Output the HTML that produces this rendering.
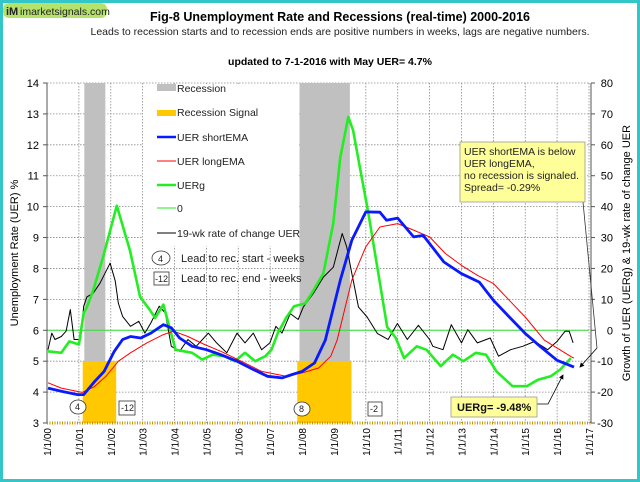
<!DOCTYPE html>
<html><head><meta charset="utf-8"><style>
body{margin:0;background:#fff;font-family:"Liberation Sans",Arial,sans-serif}
#wrap{position:relative;width:640px;height:482px;overflow:hidden}
svg text{font-family:"Liberation Sans",Arial,sans-serif}
</style></head><body>
<div id="wrap">
<svg id="chart" width="640" height="482" viewBox="0 0 640 482">
<rect x="1.5" y="1.5" width="637" height="479" fill="#fff" stroke="#33c6c8" stroke-width="3"/>
<g id="grid"></g>
<g id="marks"></g>
<g id="axes"></g>
<g>
<rect x="3" y="3" width="104" height="15" rx="6" fill="#b5e26a"/>
<text x="6" y="15" font-size="11" font-weight="bold" fill="#222">iM</text>
<text x="20" y="15" font-size="10.5" fill="#222">imarketsignals.com</text>
</g>
<text x="340" y="21" font-size="12.5" font-weight="bold" text-anchor="middle">Fig-8  Unemployment Rate and Recessions (real-time) 2000-2016</text>
<text x="340" y="35" font-size="10.5" text-anchor="middle" fill="#222">Leads to recession starts and to recession ends are positive numbers in weeks, lags are negative numbers.</text>
<text x="330" y="65" font-size="10.5" font-weight="bold" text-anchor="middle">updated to 7-1-2016 with May UER= 4.7%</text>
<text transform="translate(18,253) rotate(-90)" font-size="11" text-anchor="middle">Unemployment Rate (UER) %</text>
<text transform="translate(630,253) rotate(-90)" font-size="11" text-anchor="middle">Growth of UER (UERg) &amp; 19-wk rate of change UER</text>
</svg>
</div>
<script>
// ---- data ----
const recessions=[[2001.17,2001.83],[2007.92,2009.5]];
const signals=[[2001.12,2002.17],[2007.85,2009.55]];
const blueT=[2000.03,2000.45,2000.96,2001.15,2001.5,2001.79,2002.11,2002.37,2002.62,2002.94,2003.26,2003.65,2003.9,2004.16,2004.55,2005.0,2005.45,2005.96,2006.47,2006.92,2007.37,2007.69,2008.0,2008.39,2008.73,2009.2,2009.56,2010.0,2010.44,2010.65,2011.0,2011.5,2011.8,2012.45,2013.0,2013.56,2014.0,2014.5,2015.0,2015.5,2016.0,2016.53];
const blueV=[4.13,4.03,3.92,3.92,4.35,4.67,5.32,5.7,5.8,5.75,5.91,6.18,6.08,5.75,5.48,5.37,5.21,5.0,4.73,4.51,4.46,4.57,4.67,4.94,5.68,7.62,8.91,9.83,9.82,9.56,9.63,9.02,9.07,8.21,7.83,7.56,6.97,6.43,5.9,5.45,5.03,4.81];
const redT=[2000.03,2000.45,2001.1,2001.48,2001.85,2002.24,2002.62,2003.13,2003.65,2003.97,2004.42,2004.94,2005.45,2006.09,2006.73,2007.5,2008.0,2008.52,2008.9,2009.1,2009.56,2010.0,2010.44,2011.0,2011.5,2012.0,2012.5,2013.0,2013.5,2014.0,2014.5,2015.0,2015.6,2016.45,2016.53];
const redV=[4.3,4.13,3.99,4.17,4.51,5.0,5.27,5.59,5.86,5.97,5.8,5.54,5.32,5.0,4.67,4.51,4.62,4.78,5.16,5.68,7.62,8.7,9.34,9.45,9.24,9.02,8.48,8.1,7.78,7.51,6.97,6.43,5.68,5.14,5.1];
const greenT=[2000.03,2000.45,2000.7,2001.0,2001.15,2001.25,2001.45,2001.76,2002.19,2002.6,2002.92,2003.23,2003.39,2003.65,2004.03,2004.55,2004.87,2005.19,2005.57,2005.89,2006.21,2006.53,2006.85,2007.04,2007.24,2007.5,2007.75,2008.1,2008.36,2008.67,2008.98,2009.2,2009.45,2009.6,2009.83,2010.08,2010.36,2010.67,2010.93,2011.2,2011.6,2011.9,2012.35,2012.73,2013.06,2013.45,2013.77,2014.1,2014.6,2015.05,2015.4,2015.8,2016.1,2016.43];
const greenV=[-6.8,-7.3,-3.6,-4.6,5.6,7.5,12.9,23.7,40.3,25.9,10.8,6.5,4.0,8.3,-6.3,-7.3,-9.5,-7.9,-8.4,-10,-7.3,-10,-8.4,-6.3,-0.9,4.0,7.8,8.7,12.9,18.4,34.6,56,69,64.7,51.8,37.8,20.4,1,-2.3,-9,-5.2,-6.3,-11.6,-7.9,-10,-7.3,-7.9,-13.3,-18.1,-18.1,-16,-14.9,-12.7,-9.0];
const blackT=[2000.03,2000.15,2000.25,2000.45,2000.6,2000.73,2000.85,2001.05,2001.15,2001.25,2001.45,2001.66,2001.98,2002.14,2002.24,2002.37,2002.62,2002.88,2003.07,2003.26,2003.52,2003.71,2003.9,2004.16,2004.42,2004.68,2005.06,2005.32,2005.64,2005.96,2006.21,2006.47,2006.73,2006.99,2007.18,2007.37,2007.63,2007.88,2008.04,2008.36,2008.67,2008.98,2009.26,2009.4,2009.56,2009.77,2010.04,2010.36,2010.7,2010.99,2011.3,2011.65,2012.0,2012.1,2012.42,2012.68,2013.0,2013.2,2013.5,2013.9,2014.16,2014.54,2014.92,2015.3,2015.7,2016.0,2016.25,2016.38,2016.5];
const blackV=[-6.3,-0.9,-3,-2,-0.3,6.7,-3,-3,7.8,10.8,12,15.2,21.7,16,8.7,4.5,1.3,2.9,-0.9,2.4,7.8,5.6,-5.2,-6.8,-3,-5.2,-0.9,-4.1,-7.3,-0.9,-4.1,-0.9,-6.3,-4.1,1.3,-0.9,5.4,3.5,7.5,12,17.2,20.4,31.3,27,18.4,7.5,4.3,-1,-3,2.2,-3,1.6,-3,-5.2,-6.3,1.8,-4.1,0.2,-4.1,-2.5,-8.4,-6.3,-5.2,-3.6,-6.3,-3.6,-0.3,-0.3,-4.1];
const leftTicks=[3,4,5,6,7,8,9,10,11,12,13,14];
const rightTicks=[-30,-20,-10,0,10,20,30,40,50,60,70,80];
const yearLabels=["1/1/00","1/1/01","1/1/02","1/1/03","1/1/04","1/1/05","1/1/06","1/1/07","1/1/08","1/1/09","1/1/10","1/1/11","1/1/12","1/1/13","1/1/14","1/1/15","1/1/16","1/1/17"];
// ---- axes ----
const X0=47,X1=589,Y0=83,Y1=423;
const xs=t=>X0+(t-2000)*(X1-X0)/17;
const yl=v=>Y1-(v-3)*(Y1-Y0)/11;
const yr=r=>Y1-(r+30)*(Y1-Y0)/110;
const NS="http://www.w3.org/2000/svg";
function mk(tag,attrs,parent){const e=document.createElementNS(NS,tag);for(const k in attrs)e.setAttribute(k,attrs[k]);parent.appendChild(e);return e;}
const grid=document.getElementById('grid'),marks=document.getElementById('marks'),axes=document.getElementById('axes');
// legend background (drawn first so bars sit above)
const lb=mk('rect',{x:143,y:84,width:155,height:162,fill:'#fff'},grid);


// grid lines
leftTicks.forEach(v=>{if(v===3)return;const e=mk('line',{x1:X0,x2:X1,y1:yl(v),y2:yl(v),stroke:'#8a8a8a','stroke-width':0.8,'stroke-dasharray':'1.5,1.5'},grid);

});
yearLabels.forEach((l,i)=>{if(i===0)return;const e=mk('line',{x1:xs(2000+i),x2:xs(2000+i),y1:Y0,y2:Y1,stroke:'#8a8a8a','stroke-width':0.8,'stroke-dasharray':'1.5,1.5'},grid);

});
// re-cover gridlines inside legend
const lb2=mk('rect',{x:143,y:84,width:155,height:162,fill:'#fff'},grid);


// recessions
recessions.forEach((r,i)=>{const e=mk('rect',{x:xs(r[0]),y:Y0,width:xs(r[1])-xs(r[0]),height:Y1-Y0,fill:'#c0c0c0'},grid);

});
signals.forEach(r=>{const e=mk('rect',{x:xs(r[0]),y:yl(5),width:xs(r[1])-xs(r[0]),height:Y1-yl(5),fill:'#ffc800'},grid);

});
// zero line
const zl=mk('line',{x1:X0,x2:X1,y1:yr(0),y2:yr(0),stroke:'#33dd33','stroke-width':1},marks);


function series(T,V,f,color,w,name){const d=T.map((t,i)=>(i?'L':'M')+xs(t).toFixed(1)+','+f(V[i]).toFixed(1)).join('');
const e=mk('path',{d:d,fill:'none',stroke:color,'stroke-width':w,'stroke-linejoin':'round'},marks);

}
series(blackT,blackV,yr,'#000',1,'roc-19wk-line');
series(greenT,greenV,yr,'#22ee22',2.6,'uerg-line');
series(redT,redV,yl,'#ff0000',1,'uer-longema-line');
series(blueT,blueV,yl,'#0a1aff',2.8,'uer-shortema-line');
// axes
const al=mk('line',{x1:X0,x2:X0,y1:Y0,y2:Y1,stroke:'#555'},axes);
const ar=mk('line',{x1:X1+2,x2:X1+2,y1:Y0,y2:Y1,stroke:'#555'},axes);
const ab=mk('line',{x1:X0,x2:X1+2,y1:Y1,y2:Y1,stroke:'#c89000','stroke-width':3,'stroke-dasharray':'1,1.5'},axes);
leftTicks.forEach(v=>{const t=mk('text',{x:X0-8,y:yl(v)+4,'font-size':11,'text-anchor':'end'},axes);t.textContent=v;


mk('line',{x1:X0-4,x2:X0,y1:yl(v),y2:yl(v),stroke:'#555'},axes);});
rightTicks.forEach(v=>{const t=mk('text',{x:X1+24,y:yr(v)+4,'font-size':11,'text-anchor':'end'},axes);t.textContent=v;


mk('line',{x1:X1+2,x2:X1+6,y1:yr(v),y2:yr(v),stroke:'#555'},axes);});
yearLabels.forEach((l,i)=>{const x=xs(2000+i);const t=mk('text',{transform:`translate(${x+4},428) rotate(-90)`,'font-size':10,'text-anchor':'end'},axes);t.textContent=l;

});
</script>
<svg width="640" height="482" style="position:absolute;left:0;top:0">
<defs><marker id="ah" markerWidth="6" markerHeight="6" refX="5" refY="3" orient="auto"><path d="M0,0L6,3L0,6z" fill="#000"/></marker></defs>
<g font-family="Liberation Sans, Arial, sans-serif" font-size="10.5" fill="#222">
<rect x="157" y="84" width="19" height="7" fill="#c0c0c0"/><text x="177" y="92">Recession</text>
<rect x="157" y="110" width="19" height="6" fill="#ffc800"/><text x="177" y="116">Recession Signal</text>
<line x1="157" x2="176" y1="137" y2="137" stroke="#0a1aff" stroke-width="2.5"/><text x="177" y="141">UER shortEMA</text>
<line x1="157" x2="176" y1="161" y2="161" stroke="#f00"/><text x="177" y="165">UER longEMA</text>
<line x1="157" x2="176" y1="185" y2="185" stroke="#22ee22" stroke-width="2.5"/><text x="177" y="189">UERg</text>
<line x1="157" x2="176" y1="208" y2="208" stroke="#22ee22"/><text x="177" y="212">0</text>
<line x1="157" x2="176" y1="233" y2="233" stroke="#000"/><text x="177" y="237">19-wk rate of change UER</text>
<ellipse cx="161" cy="258" rx="9" ry="7" fill="#fff" stroke="#333" stroke-width="0.8"/><text x="158" y="262" font-size="9">4</text><text x="181" y="262" font-size="11">Lead to rec. start - weeks</text>
<rect x="154" y="272" width="15" height="13" fill="#fff" stroke="#333" stroke-width="0.8"/><text x="155" y="282" font-size="9">-12</text><text x="181" y="282" font-size="11">Lead to rec. end - weeks</text>
</g>
<g font-family="Liberation Sans, Arial, sans-serif" font-size="9" fill="#222">
<ellipse cx="78" cy="407" rx="8" ry="7" fill="#fff" stroke="#333" stroke-width="0.8"/><text x="75" y="410">4</text>
<rect x="119" y="401" width="16" height="14" fill="#fff" stroke="#333" stroke-width="0.8"/><text x="121" y="411">-12</text>
<ellipse cx="302" cy="409" rx="8" ry="7" fill="#fff" stroke="#333" stroke-width="0.8"/><text x="299" y="412">8</text>
<rect x="368" y="402" width="14" height="14" fill="#fff" stroke="#333" stroke-width="0.8"/><text x="370" y="412">-2</text>
</g>
<g>
<polyline points="583,202 597,348" fill="none" stroke="#333" stroke-width="0.8"/>
<line x1="597" y1="348" x2="580" y2="367" stroke="#000" stroke-width="0.8" marker-end="url(#ah)"/>
<rect x="460" y="142" width="125" height="60" fill="#ffff99" stroke="#999" stroke-width="0.8"/>
<text font-family="Liberation Sans, Arial, sans-serif" font-size="10.5" fill="#222"><tspan x="464" y="155">UER shortEMA  is below</tspan><tspan x="464" y="167">UER longEMA,</tspan><tspan x="464" y="179">no recession is signaled.</tspan><tspan x="464" y="191">Spread= -0.29%</tspan></text>
</g>
<g>
<polyline points="537,404 548,404 563,375" fill="none" stroke="#000" stroke-width="0.8" marker-end="url(#ah)"/>
<rect x="451" y="397" width="86" height="20" fill="#ffff99" stroke="#999" stroke-width="0.8"/>
<text x="457" y="411" font-family="Liberation Sans, Arial, sans-serif" font-size="11" font-weight="bold" fill="#111">UERg=   -9.48%</text>
</g>
</svg>
</body></html>
